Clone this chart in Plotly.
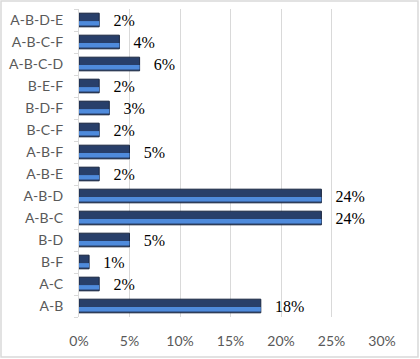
import plotly.graph_objects as go

categories = ["A-B", "A-C", "B-F", "B-D", "A-B-C", "A-B-D", "A-B-E", "A-B-F",
              "B-C-F", "B-D-F", "B-E-F", "A-B-C-D", "A-B-C-F", "A-B-D-E"]
values = [18, 2, 1, 5, 24, 24, 2, 5, 2, 3, 2, 6, 4, 2]
labels = [f"{v}%" for v in values]
x_ticks = [0, 5, 10, 15, 20, 25, 30]
x_tick_labels = [f"{t}%" for t in x_ticks]

fig = go.Figure()
fig.add_trace(go.Bar(
    y=categories, x=values, orientation="h", width=0.62,
    marker=dict(color="#283F6A", line=dict(color="#1A2740", width=1)),
    text=["\u00a0\u00a0\u2009" + l for l in labels], textposition="outside",
    constraintext="none",
    textfont=dict(family="Liberation Serif, Times New Roman, serif", size=16, color="#000000"),
    cliponaxis=False, hoverinfo="skip"))
fig.add_trace(go.Bar(
    y=categories, x=values, orientation="h", width=0.2, offset=-0.25,
    marker=dict(color="#4F8BDC", line=dict(width=0)), hoverinfo="skip"))

fig.update_layout(
    width=420, height=359, barmode="overlay", showlegend=False,
    margin=dict(l=79, r=38, t=9, b=42),
    paper_bgcolor="white", plot_bgcolor="white",
    font=dict(family="Lato, Calibri, sans-serif", size=14, color="#595959"),
    xaxis=dict(range=[0, 30], tickvals=x_ticks, ticktext=x_tick_labels,
               showgrid=True, gridcolor="#D9D9D9", gridwidth=1, zeroline=False,
               showline=False, ticks="", ticklabelstandoff=14, automargin=False,
               tickfont=dict(size=14, color="#595959")),
    yaxis=dict(categoryorder="array", categoryarray=categories, showgrid=False,
               showline=True, linecolor="#D9D9D9", linewidth=1, automargin=False,
               ticks="outside", tickson="boundaries", ticklen=4, tickcolor="#D9D9D9",
               ticklabelstandoff=12, tickfont=dict(size=14, color="#595959")),
    shapes=[dict(type="rect", xref="paper", yref="paper",
                 x0=-0.2574, x1=1.1188, y0=-0.1299, y1=1.026,
                 line=dict(color="#D9D9D9", width=1.5))]
)

fig.write_html("out.html", config={"displayModeBar": False},
               post_script="document.body.style.margin='0';document.body.style.overflow='hidden';")
